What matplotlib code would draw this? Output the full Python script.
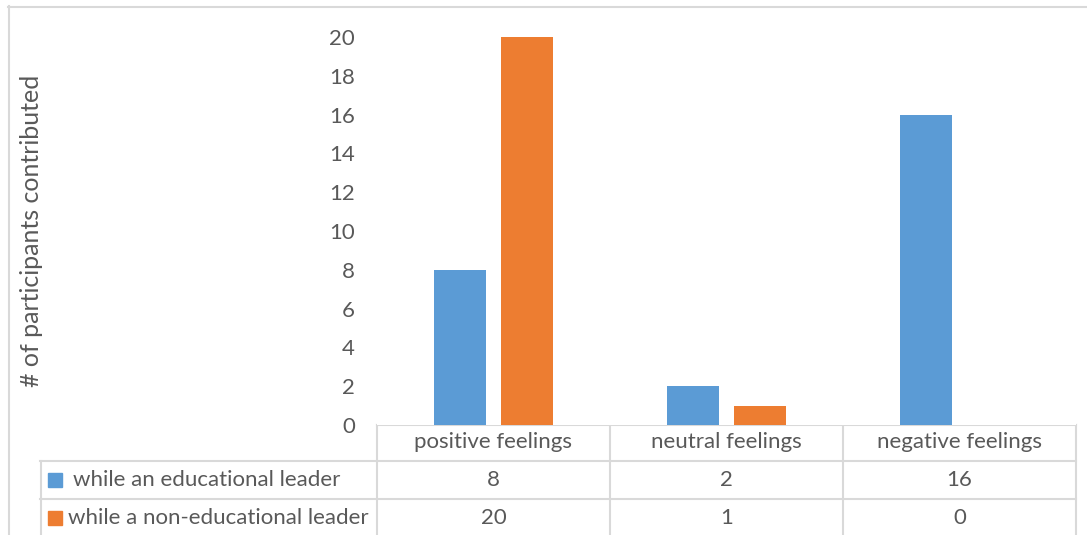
import numpy as np
import matplotlib.pyplot as plt
from matplotlib.lines import Line2D
from matplotlib.patches import Rectangle

categories = ["positive feelings", "neutral feelings", "negative feelings"]
series_names = ["while an educational leader", "while a non-educational leader"]
educational = [8, 2, 16]
non_educational = [20, 1, 0]
yticks = [0, 2, 4, 6, 8, 10, 12, 14, 16, 18, 20]

blue = "#5B9BD5"
orange = "#ED7D31"
grey_text = "#595959"
line_col = "#D9D9D9"

plt.rcParams.update({
    'font.family': ['Lato', 'DejaVu Sans'],
    'font.size': 16,
})

W, H = 1087, 535
fig = plt.figure(figsize=(W / 100, H / 100), dpi=100)

# plot area in pixel coords
left, right, top, bottom = 377, 1076, 37, 425
ax = fig.add_axes([left / W, 1 - bottom / H, (right - left) / W, (bottom - top) / H])
x = np.arange(len(categories))
off, bw = 0.143, 0.223
ax.bar(x - off, educational, bw, color=blue)
ax.bar(x + off, non_educational, bw, color=orange)
ax.set_xlim(-0.5, len(categories) - 0.5)
ax.set_ylim(0, 20)
ax.set_yticks(yticks)
ax.set_xticks([])
ax.tick_params(axis='y', length=0, pad=16, labelcolor=grey_text, labelsize=16)
for s in ax.spines.values():
    s.set_visible(False)

# overlay in pixel coordinates for frame + data table
ov = fig.add_axes([0, 0, 1, 1], zorder=-1)
ov.set_xlim(0, W)
ov.set_ylim(H, 0)
ov.axis('off')
ov.patch.set_alpha(0)

def hline(x0, x1, y):
    ov.add_line(Line2D([x0, x1], [y, y], color=line_col, lw=1.5))

def vline(x0, y0, y1):
    ov.add_line(Line2D([x0, x0], [y0, y1], color=line_col, lw=1.5))

# outer chart frame
hline(8, W, 6.5)
vline(8.5, 6, H)

col_edges = [left, left + (right - left) / 3, left + 2 * (right - left) / 3, right]
row_y = [424.5, 461, 499, H + 5]
hline(left, right, row_y[0])
hline(40, right, row_y[1])
hline(40, right, row_y[2])
vline(40.5, row_y[1], H)
for cx in col_edges:
    vline(cx, row_y[0], H)

for i, cat in enumerate(categories):
    cx = (col_edges[i] + col_edges[i + 1]) / 2
    ov.text(cx, 442, cat, ha='center', va='center', color=grey_text)
    ov.text(cx, 480, str(educational[i]), ha='center', va='center', color=grey_text)
    ov.text(cx, 518, str(non_educational[i]), ha='center', va='center', color=grey_text)

ov.add_patch(Rectangle((48, 473), 14, 14, color=blue))
ov.add_patch(Rectangle((48, 511), 14, 14, color=orange))
ov.text(73, 480, series_names[0], ha='left', va='center', color=grey_text)
ov.text(68, 518, series_names[1], ha='left', va='center', color=grey_text)

ov.text(32, 231, "# of participants contributed", rotation=90, ha='center', va='center',
        color=grey_text, fontsize=18)

fig.savefig("out.png", dpi=100)
